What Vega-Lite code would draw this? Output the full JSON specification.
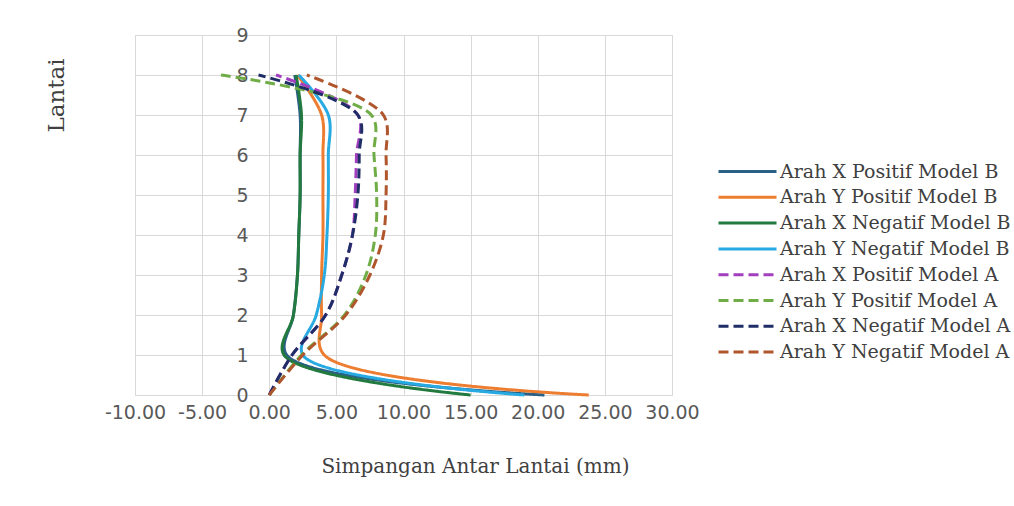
{
  "$schema": "https://vega.github.io/schema/vega-lite/v6.json",
  "width": 537,
  "height": 360,
  "autosize": {"type": "none"},
  "padding": {"left": 135, "top": 35, "right": 342, "bottom": 111},
  "background": "white",
  "config": {
    "view": {"stroke": "#d9d9d9", "strokeWidth": 1},
    "axis": {"gridColor": "#d9d9d9", "gridWidth": 1, "domain": false, "ticks": false, "labelFont": "DejaVu Sans", "labelFontSize": 19, "labelColor": "#595959", "titleFont": "DejaVu Serif", "titleColor": "#404040", "titleFontWeight": "normal"}
  },
  "data": {
    "values": [
      {"s": "Arah X Positif Model B", "floor": 0, "d": 20.5},
      {"s": "Arah X Positif Model B", "floor": 1, "d": 1.3},
      {"s": "Arah X Positif Model B", "floor": 2, "d": 1.8},
      {"s": "Arah X Positif Model B", "floor": 3, "d": 2.1},
      {"s": "Arah X Positif Model B", "floor": 4, "d": 2.2},
      {"s": "Arah X Positif Model B", "floor": 5, "d": 2.3},
      {"s": "Arah X Positif Model B", "floor": 6, "d": 2.3},
      {"s": "Arah X Positif Model B", "floor": 7, "d": 2.3},
      {"s": "Arah X Positif Model B", "floor": 8, "d": 1.9},
      {"s": "Arah Y Positif Model B", "floor": 0, "d": 23.8},
      {"s": "Arah Y Positif Model B", "floor": 1, "d": 4.1},
      {"s": "Arah Y Positif Model B", "floor": 2, "d": 3.9},
      {"s": "Arah Y Positif Model B", "floor": 3, "d": 3.9},
      {"s": "Arah Y Positif Model B", "floor": 4, "d": 4.0},
      {"s": "Arah Y Positif Model B", "floor": 5, "d": 4.0},
      {"s": "Arah Y Positif Model B", "floor": 6, "d": 4.0},
      {"s": "Arah Y Positif Model B", "floor": 7, "d": 3.9},
      {"s": "Arah Y Positif Model B", "floor": 8, "d": 2.1},
      {"s": "Arah X Negatif Model B", "floor": 0, "d": 15.0},
      {"s": "Arah X Negatif Model B", "floor": 1, "d": 1.1},
      {"s": "Arah X Negatif Model B", "floor": 2, "d": 1.8},
      {"s": "Arah X Negatif Model B", "floor": 3, "d": 2.1},
      {"s": "Arah X Negatif Model B", "floor": 4, "d": 2.2},
      {"s": "Arah X Negatif Model B", "floor": 5, "d": 2.3},
      {"s": "Arah X Negatif Model B", "floor": 6, "d": 2.3},
      {"s": "Arah X Negatif Model B", "floor": 7, "d": 2.4},
      {"s": "Arah X Negatif Model B", "floor": 8, "d": 2.0},
      {"s": "Arah Y Negatif Model B", "floor": 0, "d": 19.0},
      {"s": "Arah Y Negatif Model B", "floor": 1, "d": 2.5},
      {"s": "Arah Y Negatif Model B", "floor": 2, "d": 3.5},
      {"s": "Arah Y Negatif Model B", "floor": 3, "d": 4.1},
      {"s": "Arah Y Negatif Model B", "floor": 4, "d": 4.3},
      {"s": "Arah Y Negatif Model B", "floor": 5, "d": 4.4},
      {"s": "Arah Y Negatif Model B", "floor": 6, "d": 4.4},
      {"s": "Arah Y Negatif Model B", "floor": 7, "d": 4.4},
      {"s": "Arah Y Negatif Model B", "floor": 8, "d": 2.2},
      {"s": "Arah X Positif Model A", "floor": 0, "d": 0},
      {"s": "Arah X Positif Model A", "floor": 1, "d": 1.7},
      {"s": "Arah X Positif Model A", "floor": 2, "d": 4.2},
      {"s": "Arah X Positif Model A", "floor": 3, "d": 5.4},
      {"s": "Arah X Positif Model A", "floor": 4, "d": 6.2},
      {"s": "Arah X Positif Model A", "floor": 5, "d": 6.4},
      {"s": "Arah X Positif Model A", "floor": 6, "d": 6.5},
      {"s": "Arah X Positif Model A", "floor": 7, "d": 6.6},
      {"s": "Arah X Positif Model A", "floor": 8, "d": 0.5},
      {"s": "Arah Y Positif Model A", "floor": 0, "d": 0},
      {"s": "Arah Y Positif Model A", "floor": 1, "d": 2.4},
      {"s": "Arah Y Positif Model A", "floor": 2, "d": 5.6},
      {"s": "Arah Y Positif Model A", "floor": 3, "d": 7.2},
      {"s": "Arah Y Positif Model A", "floor": 4, "d": 7.9},
      {"s": "Arah Y Positif Model A", "floor": 5, "d": 8.0},
      {"s": "Arah Y Positif Model A", "floor": 6, "d": 7.8},
      {"s": "Arah Y Positif Model A", "floor": 7, "d": 7.6},
      {"s": "Arah Y Positif Model A", "floor": 8, "d": -3.6},
      {"s": "Arah X Negatif Model A", "floor": 0, "d": 0},
      {"s": "Arah X Negatif Model A", "floor": 1, "d": 1.7},
      {"s": "Arah X Negatif Model A", "floor": 2, "d": 4.2},
      {"s": "Arah X Negatif Model A", "floor": 3, "d": 5.4},
      {"s": "Arah X Negatif Model A", "floor": 4, "d": 6.2},
      {"s": "Arah X Negatif Model A", "floor": 5, "d": 6.6},
      {"s": "Arah X Negatif Model A", "floor": 6, "d": 6.7},
      {"s": "Arah X Negatif Model A", "floor": 7, "d": 6.6},
      {"s": "Arah X Negatif Model A", "floor": 8, "d": -0.8},
      {"s": "Arah Y Negatif Model A", "floor": 0, "d": 0},
      {"s": "Arah Y Negatif Model A", "floor": 1, "d": 2.5},
      {"s": "Arah Y Negatif Model A", "floor": 2, "d": 5.7},
      {"s": "Arah Y Negatif Model A", "floor": 3, "d": 7.5},
      {"s": "Arah Y Negatif Model A", "floor": 4, "d": 8.5},
      {"s": "Arah Y Negatif Model A", "floor": 5, "d": 8.7},
      {"s": "Arah Y Negatif Model A", "floor": 6, "d": 8.7},
      {"s": "Arah Y Negatif Model A", "floor": 7, "d": 8.5},
      {"s": "Arah Y Negatif Model A", "floor": 8, "d": 2.8}
    ]
  },
  "mark": {"type": "line", "interpolate": "catmull-rom", "strokeWidth": 3},
  "encoding": {
    "x": {
      "field": "d", "type": "quantitative",
      "scale": {"domain": [-10, 30], "nice": false, "zero": false},
      "axis": {"values": [-10, -5, 0, 5, 10, 15, 20, 25, 30], "format": ".2f", "labelExpr": "replace(datum.label, '\u2212', '-')", "labelPadding": 8, "title": "Simpangan Antar Lantai (mm)", "titleFontSize": 20, "titleX": 340, "titleY": 71, "titleAlign": "center", "titleBaseline": "middle", "labelFlush": false}
    },
    "y": {
      "field": "floor", "type": "quantitative",
      "scale": {"domain": [0, 9], "nice": false},
      "axis": {"values": [0, 1, 2, 3, 4, 5, 6, 7, 8, 9], "offset": -134, "labelPadding": 21, "title": "Lantai", "titleFontSize": 23, "titleAngle": 270, "titleX": -213, "titleY": 60, "titleAlign": "center", "titleBaseline": "middle", "labelFlush": false}
    },
    "color": {
      "field": "s", "type": "nominal",
      "scale": {
        "domain": ["Arah X Positif Model B", "Arah Y Positif Model B", "Arah X Negatif Model B", "Arah Y Negatif Model B", "Arah X Positif Model A", "Arah Y Positif Model A", "Arah X Negatif Model A", "Arah Y Negatif Model A"],
        "range": ["#2a5f86", "#ed7d31", "#227a3e", "#27a9e1", "#a23fbf", "#70ad47", "#1f2e66", "#b0562c"]
      },
      "legend": {"title": null, "orient": "none", "legendX": 601, "legendY": 125, "symbolType": "M-2.9,0H2.9", "symbolSize": 400, "symbolStrokeWidth": 3, "labelFont": "DejaVu Serif", "labelFontSize": 19, "labelColor": "#404040", "rowPadding": 3.8, "labelOffset": 21, "padding": 0, "labelLimit": 400}
    },
    "strokeDash": {
      "field": "s", "type": "nominal",
      "scale": {
        "domain": ["Arah X Positif Model B", "Arah Y Positif Model B", "Arah X Negatif Model B", "Arah Y Negatif Model B", "Arah X Positif Model A", "Arah Y Positif Model A", "Arah X Negatif Model A", "Arah Y Negatif Model A"],
        "range": [[1, 0], [1, 0], [1, 0], [1, 0], [10, 5], [10, 5], [10, 5], [10, 5]]
      },
      "legend": {"title": null, "orient": "none", "legendX": 601, "legendY": 125, "symbolType": "M-2.9,0H2.9", "symbolSize": 400, "symbolStrokeWidth": 3, "labelFont": "DejaVu Serif", "labelFontSize": 19, "labelColor": "#404040", "rowPadding": 3.8, "labelOffset": 21, "padding": 0, "labelLimit": 400}
    },
    "order": {"field": "floor", "type": "quantitative"}
  }
}
